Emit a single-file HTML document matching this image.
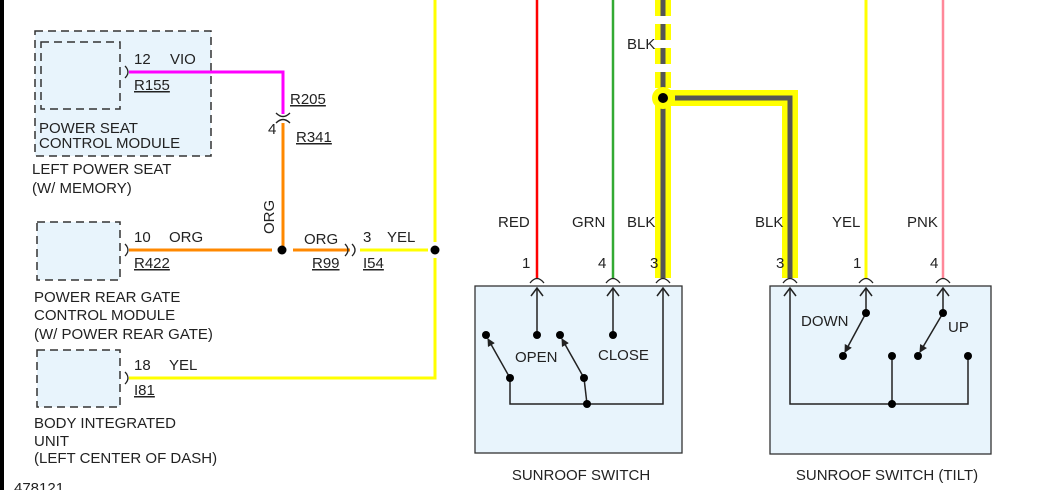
<!DOCTYPE html>
<html><head><meta charset="utf-8"><style>
body{margin:0;background:#fff}
svg text{font-family:"Liberation Sans",sans-serif;font-size:15px;fill:#222}
</style></head><body>
<svg width="1043" height="490" viewBox="0 0 1043 490" xmlns="http://www.w3.org/2000/svg">
<defs>
<marker id="ar" markerWidth="8" markerHeight="8" refX="7" refY="4" orient="auto" markerUnits="userSpaceOnUse"><path d="M0,0 L8,4 L0,8 Z" fill="#222"/></marker>
</defs>
<rect x="0" y="0" width="4" height="490" fill="#000"/>
<rect x="35" y="31" width="176" height="125" fill="#e8f4fc" stroke="#333" stroke-width="1.5" stroke-dasharray="8,5"/>
<rect x="41" y="42" width="79" height="67" fill="#e8f4fc" stroke="#333" stroke-width="1.5" stroke-dasharray="8,5"/>
<rect x="37" y="222" width="83" height="58" fill="#e8f4fc" stroke="#333" stroke-width="1.5" stroke-dasharray="8,5"/>
<rect x="37" y="350" width="83" height="57" fill="#e8f4fc" stroke="#333" stroke-width="1.5" stroke-dasharray="8,5"/>
<polyline points="129,72 283,72 283,114" fill="none" stroke="#f0f" stroke-width="3"/>
<line x1="283" y1="123" x2="283" y2="250" stroke="#f80" stroke-width="3"/>
<line x1="129" y1="250" x2="272" y2="250" stroke="#f80" stroke-width="3"/>
<line x1="293" y1="250" x2="350" y2="250" stroke="#f80" stroke-width="3"/>
<line x1="360" y1="250" x2="428" y2="250" stroke="#ff0" stroke-width="3"/>
<line x1="435" y1="0" x2="435" y2="242" stroke="#ff0" stroke-width="3"/>
<polyline points="435,258 435,378 129,378" fill="none" stroke="#ff0" stroke-width="3"/>
<circle cx="282" cy="250" r="4.5" fill="#000"/>
<circle cx="435" cy="250" r="4.5" fill="#000"/>
<g fill="none" stroke="#222" stroke-width="1.3">
<path d="M125,66 Q131,72 125,78"/><path d="M125,244 Q131,250 125,256"/><path d="M125,372 Q131,378 125,384"/>
<path d="M276,113 Q283,120 290,113"/><path d="M276,123 Q283,116 290,123"/>
<path d="M345,244 Q351,250 345,256"/><path d="M352,244 Q358,250 352,256"/>
</g>
<text x="134" y="64">12</text><text x="170" y="64">VIO</text>
<text x="134" y="90" text-decoration="underline">R155</text>
<text x="290" y="104" text-decoration="underline">R205</text>
<text x="268" y="134">4</text>
<text x="296" y="142" text-decoration="underline">R341</text>
<text x="39" y="133">POWER SEAT</text><text x="39" y="148">CONTROL MODULE</text>
<text x="32" y="174">LEFT POWER SEAT</text><text x="32" y="193">(W/ MEMORY)</text>
<text transform="translate(274,234) rotate(-90)">ORG</text>
<text x="134" y="242">10</text><text x="169" y="242">ORG</text>
<text x="134" y="268" text-decoration="underline">R422</text>
<text x="304" y="244">ORG</text><text x="312" y="268" text-decoration="underline">R99</text>
<text x="363" y="242">3</text><text x="387" y="242">YEL</text>
<text x="363" y="268" text-decoration="underline">I54</text>
<text x="34" y="302">POWER REAR GATE</text><text x="34" y="320">CONTROL MODULE</text><text x="34" y="339">(W/ POWER REAR GATE)</text>
<text x="134" y="370">18</text><text x="169" y="370">YEL</text>
<text x="134" y="395" text-decoration="underline">I81</text>
<text x="34" y="428">BODY INTEGRATED</text><text x="34" y="446">UNIT</text><text x="34" y="463">(LEFT CENTER OF DASH)</text>
<text x="14" y="493">478121</text>
<line x1="537" y1="0" x2="537" y2="278" stroke="#f00" stroke-width="2.5"/>
<line x1="613" y1="0" x2="613" y2="278" stroke="#3a3" stroke-width="2.5"/>
<line x1="866" y1="0" x2="866" y2="278" stroke="#ff0" stroke-width="3"/>
<line x1="943" y1="0" x2="943" y2="278" stroke="#f89" stroke-width="2.5"/>
<line x1="663" y1="0" x2="663" y2="90" stroke="#ff0" stroke-width="16" stroke-dasharray="16,8"/>
<line x1="663" y1="0" x2="663" y2="90" stroke="#555" stroke-width="5" stroke-dasharray="16,8"/>
<polyline points="663,98 790,98 790,278" fill="none" stroke="#ff0" stroke-width="16"/>
<line x1="663" y1="98" x2="663" y2="278" stroke="#ff0" stroke-width="16"/>
<line x1="663" y1="98" x2="663" y2="278" stroke="#555" stroke-width="5"/>
<polyline points="675,98 790,98 790,278" fill="none" stroke="#555" stroke-width="5"/>
<circle cx="663" cy="98" r="11" fill="#ff0"/>
<circle cx="663" cy="98" r="5" fill="#000"/>
<text x="627" y="49">BLK</text>
<text x="498" y="227">RED</text><text x="572" y="227">GRN</text><text x="627" y="227">BLK</text>
<text x="755" y="227">BLK</text><text x="832" y="227">YEL</text><text x="907" y="227">PNK</text>
<text x="522" y="268">1</text><text x="598" y="268">4</text><text x="650" y="268">3</text>
<text x="776" y="268">3</text><text x="853" y="268">1</text><text x="930" y="268">4</text>
<g fill="none" stroke="#222" stroke-width="1.3">
<path d="M530,283 Q537,274 544,283"/><path d="M606,283 Q613,274 620,283"/><path d="M656,283 Q663,274 670,283"/>
<path d="M783,283 Q790,274 797,283"/><path d="M859,283 Q866,274 873,283"/><path d="M936,283 Q943,274 950,283"/>
</g>
<rect x="475" y="286" width="207" height="167" fill="#e8f4fc" stroke="#333" stroke-width="1.3"/>
<rect x="770" y="286" width="221" height="168" fill="#e8f4fc" stroke="#333" stroke-width="1.3"/>
<g stroke="#222" stroke-width="1.5" fill="none">
<line x1="537" y1="288" x2="537" y2="335"/><path d="M531,296 L537,288 L543,296"/>
<line x1="613" y1="288" x2="613" y2="335"/><path d="M607,296 L613,288 L619,296"/>
<polyline points="663,288 663,404 510,404 510,378"/><path d="M657,296 L663,288 L669,296"/>
<line x1="587" y1="404" x2="584" y2="378"/>
<line x1="510" y1="378" x2="488" y2="339" marker-end="url(#ar)"/>
<line x1="584" y1="378" x2="562" y2="339" marker-end="url(#ar)"/>
<polyline points="790,288 790,404 968,404 968,356"/><path d="M784,296 L790,288 L796,296"/>
<line x1="892" y1="404" x2="892" y2="356"/>
<line x1="866" y1="288" x2="866" y2="313"/><path d="M860,296 L866,288 L872,296"/>
<line x1="943" y1="288" x2="943" y2="313"/><path d="M937,296 L943,288 L949,296"/>
<line x1="866" y1="313" x2="845" y2="352" marker-end="url(#ar)"/>
<line x1="943" y1="313" x2="920" y2="352" marker-end="url(#ar)"/>
</g>
<g fill="#000">
<circle cx="537" cy="335" r="4"/><circle cx="613" cy="335" r="4"/><circle cx="486" cy="335" r="4"/><circle cx="560" cy="335" r="4"/>
<circle cx="510" cy="378" r="4"/><circle cx="584" cy="378" r="4"/><circle cx="587" cy="404" r="4"/>
<circle cx="866" cy="313" r="4"/><circle cx="943" cy="313" r="4"/>
<circle cx="843" cy="356" r="4"/><circle cx="892" cy="356" r="4"/><circle cx="918" cy="356" r="4"/><circle cx="968" cy="356" r="4"/>
<circle cx="892" cy="404" r="4"/>
</g>
<text x="515" y="362">OPEN</text><text x="598" y="360">CLOSE</text>
<text x="801" y="326">DOWN</text><text x="948" y="332">UP</text>
<text x="581" y="480" text-anchor="middle">SUNROOF SWITCH</text>
<text x="887" y="480" text-anchor="middle">SUNROOF SWITCH (TILT)</text>
</svg>
</body></html>
